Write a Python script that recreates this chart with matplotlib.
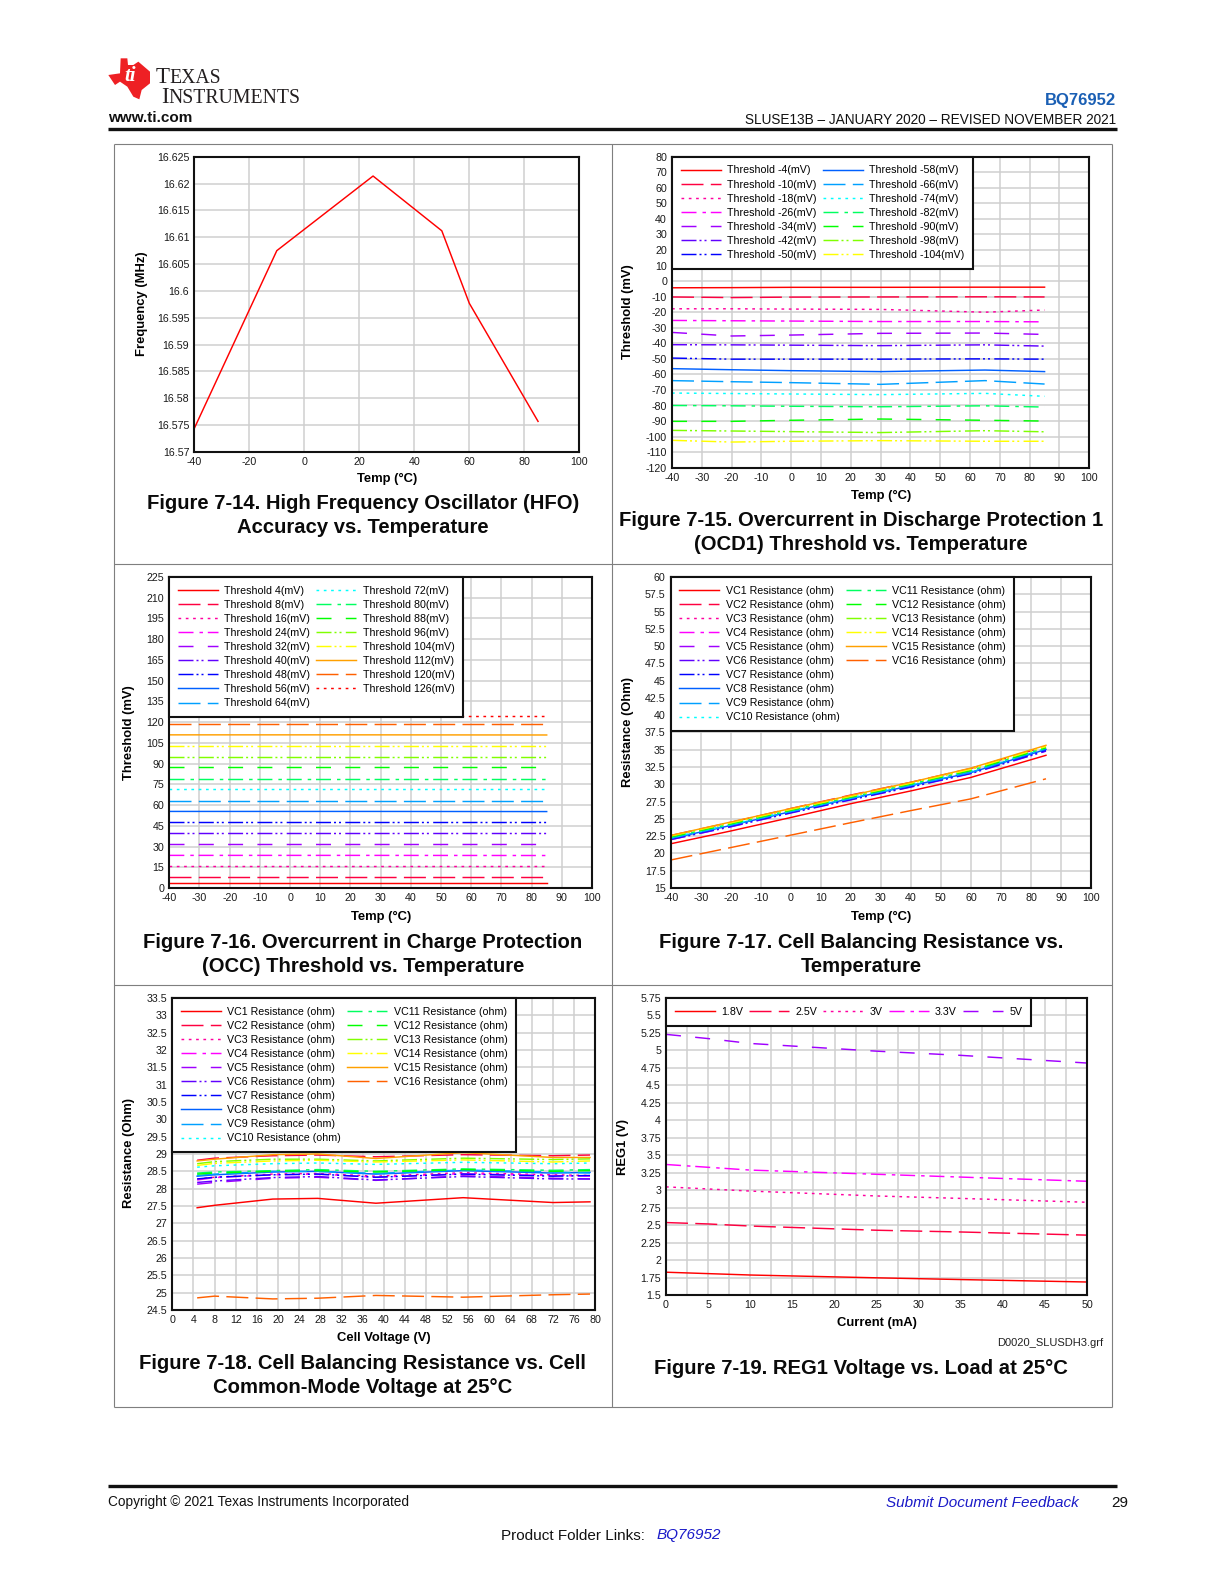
import matplotlib
matplotlib.use("Agg")
import matplotlib.pyplot as plt
from matplotlib.lines import Line2D
from matplotlib.patches import Polygon

plt.rcParams['font.family'] = ['Liberation Sans', 'DejaVu Sans']
plt.rcParams['lines.scale_dashes'] = False

W = 1224
H = 1584

# Figure 7-14
hfo_temp = [-40, -10, 25, 50, 60, 85]
hfo_freq = [16.5744, 16.6075, 16.6214, 16.6112, 16.5977, 16.5757]
hfo_xticks = ['-40', '-20', '0', '20', '40', '60', '80', '100']
hfo_yticks = ['16.57', '16.575', '16.58', '16.585', '16.59', '16.595', '16.6', '16.605',
              '16.61', '16.615', '16.62', '16.625']

# Figure 7-15
ocd_temp = [-40, -20, 0, 30, 65, 85]
ocd_names = ['Threshold -4(mV)', 'Threshold -10(mV)', 'Threshold -18(mV)', 'Threshold -26(mV)',
             'Threshold -34(mV)', 'Threshold -42(mV)', 'Threshold -50(mV)', 'Threshold -58(mV)',
             'Threshold -66(mV)', 'Threshold -74(mV)', 'Threshold -82(mV)', 'Threshold -90(mV)',
             'Threshold -98(mV)', 'Threshold -104(mV)']
ocd_values = [
    [-4.3, -4.2, -4.0, -4.0, -3.9, -3.9],
    [-10.2, -10.6, -10.3, -10.2, -10.1, -10.2],
    [-17.8, -17.8, -18.0, -18.2, -20.0, -18.6],
    [-25.3, -25.5, -25.7, -26.0, -26.0, -26.2],
    [-33.0, -35.3, -34.7, -33.6, -33.4, -34.3],
    [-40.9, -41.0, -41.2, -41.5, -41.0, -41.8],
    [-49.5, -50.2, -50.2, -50.2, -50.0, -50.2],
    [-56.3, -57.0, -57.6, -58.2, -57.2, -58.2],
    [-64.0, -64.7, -65.3, -66.4, -64.0, -66.2],
    [-72.0, -72.3, -72.6, -73.0, -72.2, -74.1],
    [-80.0, -80.2, -80.5, -80.8, -80.2, -81.0],
    [-90.2, -90.2, -89.5, -88.7, -89.5, -90.0],
    [-96.0, -96.4, -96.8, -97.4, -96.2, -96.9],
    [-102.4, -103.5, -103.0, -102.6, -103.0, -103.0],
]
ocd_xticks = ['-40', '-30', '-20', '-10', '0', '10', '20', '30', '40', '50', '60', '70', '80', '90', '100']
ocd_yticks = ['-120', '-110', '-100', '-90', '-80', '-70', '-60', '-50', '-40', '-30', '-20', '-10',
              '0', '10', '20', '30', '40', '50', '60', '70', '80']

# Figure 7-16
occ_temp = [-40, 25, 85]
occ_names = ['Threshold 4(mV)', 'Threshold 8(mV)', 'Threshold 16(mV)', 'Threshold 24(mV)',
             'Threshold 32(mV)', 'Threshold 40(mV)', 'Threshold 48(mV)', 'Threshold 56(mV)',
             'Threshold 64(mV)', 'Threshold 72(mV)', 'Threshold 80(mV)', 'Threshold 88(mV)',
             'Threshold 96(mV)', 'Threshold 104(mV)', 'Threshold 112(mV)', 'Threshold 120(mV)',
             'Threshold 126(mV)']
occ_values = [
    [3.9, 3.9, 3.9],
    [7.7, 7.7, 7.7],
    [15.6, 15.6, 15.6],
    [23.6, 23.6, 23.5],
    [31.5, 31.5, 31.5],
    [39.5, 39.5, 39.5],
    [47.4, 47.4, 47.4],
    [55.4, 55.4, 55.3],
    [63.3, 63.3, 63.3],
    [71.3, 71.3, 71.3],
    [79.2, 79.2, 79.2],
    [87.2, 87.2, 87.2],
    [94.9, 94.9, 94.9],
    [103.0, 103.0, 103.0],
    [110.8, 110.8, 110.7],
    [118.9, 118.9, 118.9],
    [124.5, 124.5, 124.5],
]
occ_yticks = ['0', '15', '30', '45', '60', '75', '90', '105', '120', '135', '150', '165', '180',
              '195', '210', '225']

vc_names = ['VC%d Resistance (ohm)' % i for i in range(1, 17)]

# Figure 7-17
bal_temp = [-40, -20, 0, 20, 40, 60, 85]
bal_values = [
    [21.4, 23.25, 25.2, 27.2, 29.05, 31.0, 34.2],
    [22.6, 24.5, 26.5, 28.45, 30.3, 32.3, 35.5],
    [22.2, 24.1, 26.1, 28.0, 29.85, 31.8, 35.1],
    [22.25, 24.15, 26.15, 28.05, 29.9, 31.85, 35.15],
    [22.0, 23.9, 25.9, 27.8, 29.65, 31.6, 34.85],
    [22.0, 23.85, 25.85, 27.75, 29.6, 31.55, 34.8],
    [22.1, 24.0, 25.95, 27.85, 29.7, 31.65, 34.95],
    [22.15, 24.05, 26.05, 27.95, 29.8, 31.7, 35.05],
    [22.2, 24.1, 26.05, 27.95, 29.85, 31.75, 35.2],
    [22.3, 24.2, 26.2, 28.1, 30.0, 31.95, 35.25],
    [22.35, 24.25, 26.25, 28.15, 30.05, 32.0, 35.3],
    [22.4, 24.3, 26.25, 28.15, 30.05, 32.0, 35.3],
    [22.5, 24.4, 26.35, 28.25, 30.15, 32.15, 35.45],
    [22.55, 24.45, 26.4, 28.3, 30.2, 32.2, 35.5],
    [22.6, 24.55, 26.5, 28.4, 30.3, 32.35, 35.65],
    [19.05, 20.85, 22.65, 24.45, 26.2, 27.9, 30.8],
]
bal_yticks = ['15', '17.5', '20', '22.5', '25', '27.5', '30', '32.5', '35', '37.5', '40', '42.5',
              '45', '47.5', '50', '52.5', '55', '57.5', '60']

# Figure 7-18
cm_volt = [4.7, 8, 19, 27.5, 38.5, 55, 72, 79]
cm_values = [
    [27.45, 27.52, 27.7, 27.72, 27.58, 27.74, 27.6, 27.62],
    [28.82, 28.88, 28.95, 28.97, 28.92, 28.98, 28.95, 28.97],
    [28.28, 28.33, 28.42, 28.44, 28.36, 28.46, 28.4, 28.38],
    [28.25, 28.32, 28.4, 28.42, 28.33, 28.43, 28.38, 28.36],
    [28.13, 28.18, 28.3, 28.33, 28.24, 28.37, 28.3, 28.28],
    [28.18, 28.22, 28.32, 28.35, 28.25, 28.35, 28.28, 28.28],
    [28.28, 28.33, 28.4, 28.42, 28.33, 28.42, 28.36, 28.38],
    [28.36, 28.4, 28.48, 28.5, 28.42, 28.52, 28.45, 28.47],
    [28.38, 28.42, 28.5, 28.5, 28.44, 28.54, 28.48, 28.45],
    [28.62, 28.66, 28.72, 28.74, 28.7, 28.76, 28.72, 28.74],
    [28.45, 28.48, 28.52, 28.55, 28.5, 28.57, 28.53, 28.55],
    [28.42, 28.45, 28.5, 28.52, 28.48, 28.55, 28.5, 28.52],
    [28.72, 28.78, 28.85, 28.85, 28.8, 28.88, 28.84, 28.86],
    [28.67, 28.73, 28.8, 28.82, 28.77, 28.83, 28.77, 28.8],
    [28.8, 28.85, 28.98, 29.0, 28.87, 29.04, 28.9, 28.9],
    [24.85, 24.9, 24.82, 24.84, 24.92, 24.87, 24.94, 24.96],
]
cm_xticks = ['0', '4', '8', '12', '16', '20', '24', '28', '32', '36', '40', '44', '48', '52', '56',
             '60', '64', '68', '72', '76', '80']
cm_yticks = ['24.5', '25', '25.5', '26', '26.5', '27', '27.5', '28', '28.5', '29', '29.5', '30',
             '30.5', '31', '31.5', '32', '32.5', '33', '33.5']

# Figure 7-19
reg_current = [0, 5, 10, 25, 35, 50]
reg_names = ['1.8V', '2.5V', '3V', '3.3V', '5V']
reg_values = [
    [1.83, 1.81, 1.79, 1.75, 1.725, 1.69],
    [2.54, 2.52, 2.49, 2.43, 2.405, 2.36],
    [3.05, 3.02, 2.99, 2.92, 2.885, 2.83],
    [3.37, 3.33, 3.29, 3.23, 3.19, 3.13],
    [5.23, 5.17, 5.10, 4.99, 4.93, 4.82],
]
reg_xticks = ['0', '', '5', '', '10', '', '15', '', '20', '', '25', '', '30', '', '35', '', '40', '',
              '45', '', '50']
reg_xgrid = [i * 2.5 for i in range(21)]
reg_yticks = ['1.5', '1.75', '2', '2.25', '2.5', '2.75', '3', '3.25', '3.5', '3.75', '4', '4.25',
              '4.5', '4.75', '5', '5.25', '5.5', '5.75']

# line styles repeat through the series, dash lengths in px
colors = ['#ff0000', '#ff0040', '#ff00a0', '#ff00ff', '#a000ff', '#6000ff', '#0000ff', '#0060ff',
          '#00a0ff', '#00ffff', '#00ff60', '#00ff00', '#80ff00', '#ffff00', '#ffa000', '#ff6000',
          '#ff0000']
dash_px = [None, (22, 7.3), (2.7, 4.6), (15, 6, 3.5, 4.8), (15, 14.3),
           (15, 3, 2, 3, 2, 4.3), (15, 3, 2, 3, 2, 4.3)]

TICK_SIZE = 7.7
LABEL_SIZE = 9.4
TITLE_SIZE = 14.6


def fx(x):
    return x / W


def fy(y):
    return 1 - y / H


def line_style(i):
    d = dash_px[i % 7]
    if d is None:
        return '-'
    return (0, tuple(v * 0.72 for v in d))


def make_axes(box, xticks, yticks, xlabel, ylabel, xpos, ypos):
    l, t, r, b = box
    ax = fig.add_axes([fx(l), fy(b), fx(r - l), (b - t) / H])
    xv = [float(s) for s in xticks]
    yv = [float(s) for s in yticks]
    ax.set_xlim(xv[0], xv[-1])
    ax.set_ylim(yv[0], yv[-1])
    ax.set_xticks(xv)
    ax.set_xticklabels(xticks)
    ax.set_yticks(yv)
    ax.set_yticklabels(yticks)
    ax.tick_params(length=0, labelsize=TICK_SIZE, pad=3.6, colors='#1a1a1a')
    ax.grid(True, color='#cfcfcf', lw=1.1)
    ax.set_axisbelow(True)
    for s in ax.spines.values():
        s.set_linewidth(1.5)
        s.set_color('#111111')
    ax.set_xlabel(xlabel, fontsize=LABEL_SIZE, fontweight='bold')
    ax.set_ylabel(ylabel, fontsize=LABEL_SIZE, fontweight='bold')
    ax.xaxis.set_label_coords(fx(xpos[0]), fy(xpos[1]), transform=fig.transFigure)
    ax.yaxis.set_label_coords(fx(ypos[0]), fy(ypos[1]), transform=fig.transFigure)
    ax.xaxis.label.set_verticalalignment('center')
    ax.yaxis.label.set_verticalalignment('center')
    return ax


def draw_series(ax, x, values, names, ncol, pad_blank=0):
    handles = []
    for i, y in enumerate(values):
        ln, = ax.plot(x, y, color=colors[i], lw=1.05, ls=line_style(i), label=names[i])
        handles.append(ln)
    labels = list(names)
    for i in range(pad_blank):
        handles.append(Line2D([], [], color='none'))
        labels.append('')
    leg = ax.legend(handles, labels, loc='upper left', ncol=ncol, fontsize=TICK_SIZE, borderaxespad=0,
                    fancybox=False, framealpha=1, edgecolor='#111111', handlelength=3.74,
                    handletextpad=0.6, columnspacing=0.55, labelspacing=0.38, borderpad=0.82)
    leg.get_frame().set_linewidth(1.5)
    return leg


def caption(x, y, s):
    fig.text(fx(x), fy(y), s, ha='center', va='center', fontsize=TITLE_SIZE, fontweight='bold', color='#0a0a0a')


def rule(x0, y0, x1, y1, color, lw):
    fig.add_artist(Line2D([fx(x0), fx(x1)], [fy(y0), fy(y1)], color=color, lw=lw, solid_capstyle='butt'))


fig = plt.figure(figsize=(W / 100, H / 100), dpi=100)

# page frame behind the charts
for yy in [144, 563.5, 985, 1406.5]:
    rule(113.5, yy, 1112, yy, '#7f7f7f', 0.8)
for xx in [113.5, 611.5, 1112]:
    rule(xx, 144, xx, 1406.5, '#7f7f7f', 0.8)

ax = make_axes((194.3, 156.7, 579.3, 452), hfo_xticks, hfo_yticks, 'Temp (°C)', 'Frequency (MHz)',
               (386.7, 478.7), (141.7, 304))
ax.plot(hfo_temp, hfo_freq, color='#ff0000', lw=1.05)
caption(362.7, 503.3, 'Figure 7-14. High Frequency Oscillator (HFO)')
caption(362.7, 527.3, 'Accuracy vs. Temperature')

ax = make_axes((672, 156.7, 1089.3, 467.7), ocd_xticks, ocd_yticks, 'Temp (°C)', 'Threshold (mV)',
               (880.7, 495.7), (628.3, 311.7))
draw_series(ax, ocd_temp, ocd_values, ocd_names, 2)
caption(860.7, 520.3, 'Figure 7-15. Overcurrent in Discharge Protection 1')
caption(860.7, 544.3, '(OCD1) Threshold vs. Temperature')

ax = make_axes((169.3, 577, 592, 888), ocd_xticks, occ_yticks, 'Temp (°C)', 'Threshold (mV)',
               (380.7, 916.7), (129, 732.3))
draw_series(ax, occ_temp, occ_values, occ_names, 2)
caption(362.7, 942.3, 'Figure 7-16. Overcurrent in Charge Protection')
caption(362.7, 966.3, '(OCC) Threshold vs. Temperature')

ax = make_axes((670.7, 577, 1091, 888), ocd_xticks, bal_yticks, 'Temp (°C)', 'Resistance (Ohm)',
               (880.7, 916.7), (627.7, 732.3))
draw_series(ax, bal_temp, bal_values, vc_names, 2, pad_blank=4)
caption(861, 942.3, 'Figure 7-17. Cell Balancing Resistance vs.')
caption(861, 966.3, 'Temperature')

ax = make_axes((172.3, 998, 595.3, 1310), cm_xticks, cm_yticks, 'Cell Voltage (V)', 'Resistance (Ohm)',
               (383.7, 1337.7), (129, 1153.3))
draw_series(ax, cm_volt, cm_values, vc_names, 2, pad_blank=4)
caption(362.7, 1363.3, 'Figure 7-18. Cell Balancing Resistance vs. Cell')
caption(362.7, 1387.3, 'Common-Mode Voltage at 25°C')

ax = make_axes((666, 998, 1087.3, 1295.3), ['0', '50'], reg_yticks, 'Current (mA)', 'REG1 (V)',
               (876.7, 1323.3), (622.7, 1146.7))
ax.set_xticks(reg_xgrid)
ax.set_xticklabels(reg_xticks)
draw_series(ax, reg_current, reg_values, reg_names, 5)
caption(861, 1368.3, 'Figure 7-19. REG1 Voltage vs. Load at 25°C')
fig.text(fx(1103.7), fy(1342.7), 'D0020_SLUSDH3.grf', ha='right', va='center', fontsize=8, color='#222222')

# header
logo_x = [62, 82, 84, 100, 115, 150, 150, 125, 118, 100, 82, 60, 45, 25, 60]
logo_y = [55, 55, 75, 75, 65, 95, 130, 150, 178, 170, 140, 125, 135, 105, 100]
fig.add_artist(Polygon([(fx(100 + a / 3), fy(40 + b / 3)) for a, b in zip(logo_x, logo_y)], closed=True,
                       facecolor='#ee2024', edgecolor='none', transform=fig.transFigure))
fig.text(fx(130), fy(76), 'ti', ha='center', va='center', fontsize=15, fontweight='bold', style='italic',
         color='white', family='Liberation Serif')
serif = dict(family='Liberation Serif', color='#231f20', va='baseline', ha='left')
fig.text(fx(156), fy(82.7), 'T', fontsize=16.6, **serif)
fig.text(fx(169), fy(82.7), 'EXAS', fontsize=14.2, **serif)
fig.text(fx(161), fy(102.7), 'I', fontsize=16.6, **serif)
fig.text(fx(168.6), fy(102.7), 'NSTRUMENTS', fontsize=14.2, **serif)
fig.text(fx(108), fy(117.5), 'www.ti.com', fontsize=11, fontweight='bold', va='center', color='#111111')
fig.text(fx(1116.5), fy(100), 'BQ76952', fontsize=12, fontweight='bold', ha='right', va='center', color='#1a5fb4')
fig.text(fx(1116.5), fy(119.5), 'SLUSE13B – JANUARY 2020 – REVISED NOVEMBER 2021', fontsize=9.8, ha='right',
         va='center', color='#111111')
rule(108, 129.2, 1116.5, 129.2, '#111111', 2.4)

# footer
rule(108, 1486, 1116.5, 1486, '#111111', 2.4)
fig.text(fx(108), fy(1502), 'Copyright © 2021 Texas Instruments Incorporated', fontsize=9.8, va='center', color='#111111')
fig.text(fx(1079), fy(1503), 'Submit Document Feedback', fontsize=11, style='italic', ha='right', va='center', color='#1a1ac8')
fig.text(fx(1119.5), fy(1503), '29', fontsize=11, ha='center', va='center', color='#111111')
fig.text(fx(501), fy(1535.5), 'Product Folder Links: ', fontsize=11, va='center', color='#111111')
fig.text(fx(657), fy(1535.5), 'BQ76952', fontsize=11, style='italic', va='center', color='#1a1ac8')

fig.savefig('out.png', dpi=100)
